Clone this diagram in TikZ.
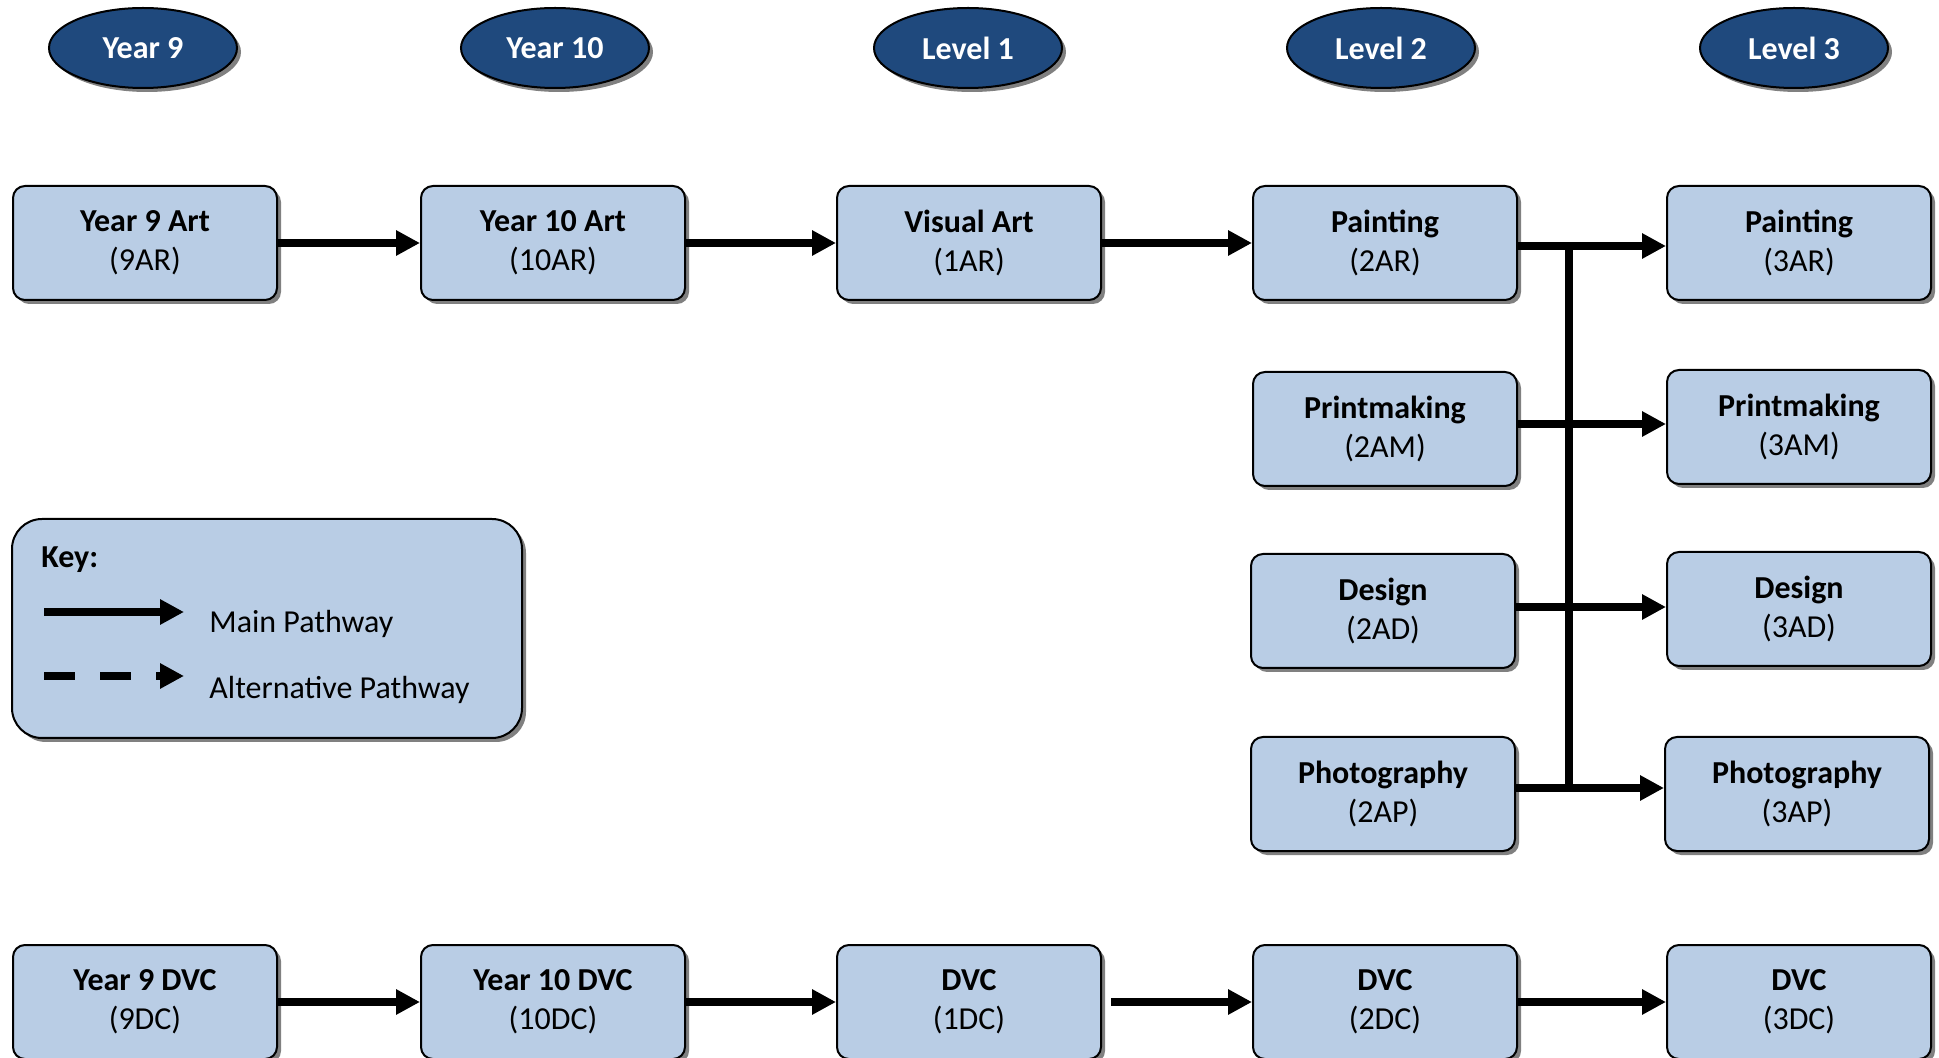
\documentclass[tikz,border=0pt]{standalone}
\usepackage{fontspec}
\setmainfont{Carlito}
\usetikzlibrary{arrows.meta,shadows,shapes.geometric,calc}
\definecolor{boxblue}{HTML}{B9CDE5}
\definecolor{darkblue}{HTML}{1F497D}
\begin{document}
\begin{tikzpicture}[x=0.5pt,y=-0.5pt,
  myshadow/.style={drop shadow={shadow xshift=2pt,shadow yshift=-2pt,fill=black!50,opacity=1}},
  box/.style={draw=black,line width=1pt,fill=boxblue,rounded corners=6pt,
    minimum width=132pt,minimum height=57pt,align=center,
    font=\fontsize{16}{19.5}\selectfont,myshadow},
  yr/.style={ellipse,draw=black,line width=1pt,fill=darkblue,text=white,
    minimum width=94pt,minimum height=40pt,inner sep=0pt,
    font=\fontsize{16}{19.5}\selectfont\bfseries,myshadow},
  arr/.style={line width=3.75pt,-{Triangle[length=12pt,width=12pt]}},
  keytext/.style={anchor=base west,inner sep=0pt,font=\fontsize{16}{19.5}\selectfont}]
\useasboundingbox (0,0) rectangle (1939,1058);

% header ellipses
\node[yr] (h1) at (143,48) {Year 9};
\node[yr] (h2) at (555,48) {Year 10};
\node[yr] (h3) at (968,48) {Level 1};
\node[yr] (h4) at (1381,48) {Level 2};
\node[yr] (h5) at (1794,48) {Level 3};

% art row
\node[box] (a9)  at (145,243)  {\textbf{Year 9 Art}\\(9AR)};
\node[box] (a10) at (553,243)  {\textbf{Year 10 Art}\\(10AR)};
\node[box] (a1)  at (969,243)  {\textbf{Visual Art}\\(1AR)};
\node[box] (p2ar) at (1385,243) {\textbf{Painting}\\(2AR)};
\node[box] (p3ar) at (1799,243) {\textbf{Painting}\\(3AR)};

\node[box] (p2am) at (1385,429) {\textbf{Printmaking}\\(2AM)};
\node[box] (p3am) at (1799,427) {\textbf{Printmaking}\\(3AM)};
\node[box] (p2ad) at (1383,611) {\textbf{Design}\\(2AD)};
\node[box] (p3ad) at (1799,609) {\textbf{Design}\\(3AD)};
\node[box] (p2ap) at (1383,794) {\textbf{Photography}\\(2AP)};
\node[box] (p3ap) at (1797,794) {\textbf{Photography}\\(3AP)};

% DVC row
\node[box] (d9)  at (145,1002)  {\textbf{Year 9 DVC}\\(9DC)};
\node[box] (d10) at (553,1002)  {\textbf{Year 10 DVC}\\(10DC)};
\node[box] (d1)  at (969,1002)  {\textbf{DVC}\\(1DC)};
\node[box] (d2)  at (1385,1002) {\textbf{DVC}\\(2DC)};
\node[box] (d3)  at (1799,1002) {\textbf{DVC}\\(3DC)};

% arrows art
\draw[arr] (a9) -- (a10);
\draw[arr] (a10) -- (a1);
\draw[arr] (a1) -- (p2ar);
\coordinate (tx) at (1569,0);
\coordinate (r1) at ($(p2ar.east)+(0,3)$);
\coordinate (r2) at ($(p2am.east)+(0,-5)$);
\coordinate (r3) at ($(p2ad.east)+(0,-4)$);
\coordinate (r4) at ($(p2ap.east)+(0,-6)$);
\draw[line width=3.75pt] (tx |- r1) -- (tx |- r4);
\draw[arr] (r1) -- (r1 -| p3ar.west);
\draw[arr] (r2) -- (r2 -| p3am.west);
\draw[arr] (r3) -- (r3 -| p3ad.west);
\draw[arr] (r4) -- (r4 -| p3ap.west);

% arrows dvc
\draw[arr] (d9) -- (d10);
\draw[arr] (d10) -- (d1);
\draw[arr,shorten <=4.5pt] (d1) -- (d2);
\draw[arr] (d2) -- (d3);

% key
\node[draw=black,line width=1pt,fill=boxblue,rounded corners=15pt,
  minimum width=255pt,minimum height=109.5pt,myshadow] (key) at (267,628.5) {};
\node[keytext,font=\fontsize{16}{19.5}\selectfont\bfseries] (keyt) at (41,568) {Key:};
\coordinate (m1) at (44,612);
\coordinate (m2) at (184,612);
\draw[arr] (m1) -- (m2);
\node[keytext] (mt) at (209,633) {Main Pathway};
\coordinate (n1) at (44,676);
\coordinate (n2) at (184,676);
\draw[arr,dash pattern=on 15.5pt off 12.5pt] (n1) -- (n2);
\node[keytext] (nt) at (209,698) {Alternative Pathway};
\end{tikzpicture}
\end{document}
